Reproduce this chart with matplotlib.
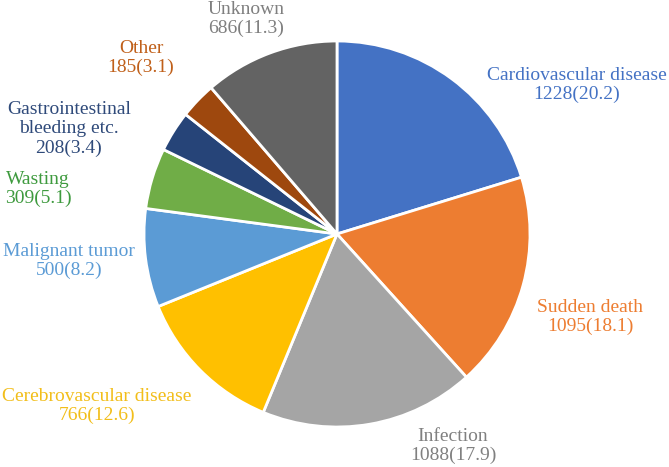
import matplotlib.pyplot as plt

# Data
labels = ["Cardiovascular disease", "Sudden death", "Infection", "Cerebrovascular disease",
          "Malignant tumor", "Wasting", "Gastrointestinal\nbleeding etc.", "Other", "Unknown"]
counts = [1228, 1095, 1088, 766, 500, 309, 208, 185, 686]
percents = [20.2, 18.1, 17.9, 12.6, 8.2, 5.1, 3.4, 3.1, 11.3]

slice_colors = ["#4472C4", "#ED7D31", "#A5A5A5", "#FFC000", "#5B9BD5",
                "#70AD47", "#264478", "#9E480E", "#636363"]
text_colors = ["#4472C4", "#ED7D31", "#808080", "#F2BE1A", "#5B9BD5",
               "#3E9A3E", "#2F4A7A", "#C0601A", "#7F7F7F"]

# label centres in pixels (x, y from top)
label_pos = [(577, 85), (590, 317), (453, 446), (97, 406), (69, 261),
             (38, 189), (69, 129), (141, 58), (246, 19)]

W, H = 669, 467
fig = plt.figure(figsize=(W / 100, H / 100), dpi=100)

cx, cy, r = 337, 234, 193
ax = fig.add_axes([(cx - r) / W, (H - cy - r) / H, 2 * r / W, 2 * r / H])
ax.pie(counts, colors=slice_colors, startangle=90, counterclock=False,
       radius=1, wedgeprops=dict(edgecolor="white", linewidth=2))
ax.set_xlim(-1, 1)
ax.set_ylim(-1, 1)
ax.set_aspect("equal")
ax.axis("off")

for lab, n, p, col, (x, y) in zip(labels, counts, percents, text_colors, label_pos):
    fig.text(x / W, 1 - y / H, f"{lab}\n{n}({p})", ha="center", va="center",
             color=col, fontsize=14, family="Liberation Serif", linespacing=1.15)

fig.savefig("out.png", dpi=100)
